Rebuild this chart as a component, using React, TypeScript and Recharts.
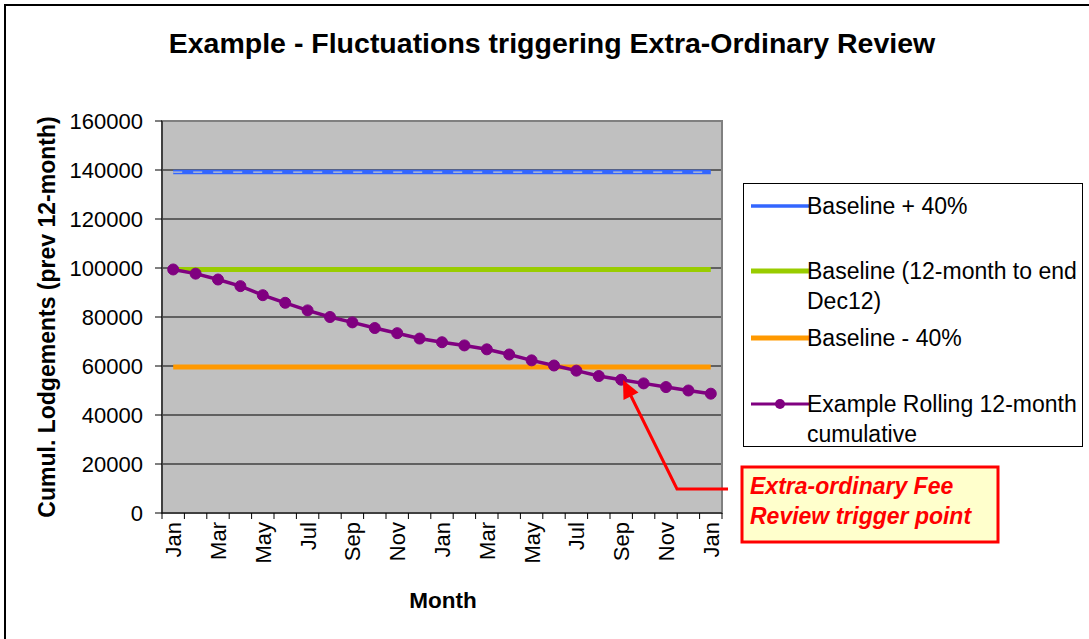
import React from 'react';
import { LineChart, Line, XAxis, YAxis, CartesianGrid, Legend, ReferenceArea } from 'recharts';

// ---------- data ----------
const months = [
  'Jan', 'Feb', 'Mar', 'Apr', 'May', 'Jun', 'Jul', 'Aug', 'Sep', 'Oct', 'Nov', 'Dec',
  'Jan', 'Feb', 'Mar', 'Apr', 'May', 'Jun', 'Jul', 'Aug', 'Sep', 'Oct', 'Nov', 'Dec',
  'Jan',
];
const baselinePlus40 = [
  139160, 139160, 139160, 139160, 139160, 139160, 139160, 139160, 139160, 139160, 139160, 139160,
  139160, 139160, 139160, 139160, 139160, 139160, 139160, 139160, 139160, 139160, 139160, 139160,
  139160,
];
const baseline = [
  99400, 99400, 99400, 99400, 99400, 99400, 99400, 99400, 99400, 99400, 99400, 99400,
  99400, 99400, 99400, 99400, 99400, 99400, 99400, 99400, 99400, 99400, 99400, 99400,
  99400,
];
const baselineMinus40 = [
  59640, 59640, 59640, 59640, 59640, 59640, 59640, 59640, 59640, 59640, 59640, 59640,
  59640, 59640, 59640, 59640, 59640, 59640, 59640, 59640, 59640, 59640, 59640, 59640,
  59640,
];
const rolling = [
  99400, 97700, 95300, 92600, 88900, 85800, 82700, 80000, 77800, 75500, 73400, 71200,
  69700, 68400, 66800, 64700, 62300, 60200, 58100, 55900, 54400, 52900, 51400, 50000,
  48700,
];
const yTicks = [0, 20000, 40000, 60000, 80000, 100000, 120000, 140000, 160000];

const seriesKeys = ['plus', 'base', 'minus', 'rolling'];
const seriesNames: Record<string, string> = {
  plus: 'Baseline + 40%',
  base: 'Baseline (12-month to end Dec12)',
  minus: 'Baseline - 40%',
  rolling: 'Example Rolling 12-month cumulative',
};

const data = months.map((m, i) => ({
  i,
  month: m,
  plus: baselinePlus40[i],
  base: baseline[i],
  minus: baselineMinus40[i],
  rolling: rolling[i],
}));

// category boundaries (Excel-style tick marks between categories)
const xTicks = [...months.map((_, k) => k - 0.5), months.length - 0.5];

// ---------- layout / style ----------
const FONT = '"Liberation Sans", Arial, Helvetica, sans-serif';
const CHART_W = 1089;
const CHART_H = 639;
const MARGIN = { top: 121, right: 367, bottom: 0, left: 0 };
const Y_AXIS_W = 162;
const X_AXIS_H = 126;
const PLOT_W = CHART_W - MARGIN.left - MARGIN.right - Y_AXIS_W;
const HALF_BAND = PLOT_W / months.length / 2;
const TICK_FONT = 22;

const COLORS: Record<string, string> = {
  plus: '#3366FF',
  base: '#99CC00',
  minus: '#FF9900',
  rolling: '#800080',
};
const LEGEND_WIDTHS: Record<string, number> = { plus: 3.5, base: 5, minus: 5, rolling: 3 };

const legendTops = [7, 72, 139, 205];

function MonthTick(props: any) {
  const { x, y, payload } = props;
  const k = payload.value + 0.5;
  if (k % 2 !== 0 || k >= months.length) return <g />;
  const cx = x + HALF_BAND;
  return (
    <text
      x={cx}
      y={y}
      dy={8}
      transform={`rotate(-90, ${cx}, ${y})`}
      textAnchor="end"
      style={{ fontSize: TICK_FONT, fontFamily: FONT }}
      fill="#000"
    >
      {months[k]}
    </text>
  );
}

function ValueTick(props: any) {
  const { x, y, payload } = props;
  return (
    <text
      x={x}
      y={y}
      dy={8}
      textAnchor="end"
      style={{ fontSize: TICK_FONT, fontFamily: FONT }}
      fill="#000"
    >
      {payload.value}
    </text>
  );
}

function LegendBox(props: any) {
  const raw = (props.payload || []).filter((p: any) => p.type !== 'none' && seriesKeys.includes(p.dataKey));
  const items = seriesKeys
    .map((k) => raw.find((p: any) => p.dataKey === k))
    .filter(Boolean);
  return (
    <div
      style={{
        position: 'relative',
        width: 340,
        height: 264,
        border: '1px solid #000',
        background: '#fff',
        boxSizing: 'border-box',
        fontFamily: FONT,
        fontSize: 23,
        color: '#000',
        textAlign: 'left',
      }}
    >
      {items.map((p: any, idx: number) => {
        const hasDot = p.dataKey === 'rolling';
        return (
          <div key={String(p.dataKey)} style={{ position: 'absolute', left: 0, top: legendTops[idx], width: 340 }}>
            <svg width={60} height={30} style={{ position: 'absolute', left: 6, top: 0 }}>
              <line x1={1} y1={15} x2={59} y2={15} stroke={p.color} strokeWidth={LEGEND_WIDTHS[p.dataKey]} />
              {hasDot && <circle cx={30} cy={15} r={5} fill={p.color} />}
            </svg>
            <div style={{ position: 'absolute', left: 63, top: 0, width: 280, lineHeight: '30px' }}>
              {seriesNames[p.dataKey]}
            </div>
          </div>
        );
      })}
    </div>
  );
}

export default function App() {
  return (
    <div
      style={{
        position: 'absolute',
        left: 0,
        top: 0,
        width: CHART_W,
        height: CHART_H,
        background: '#fff',
        overflow: 'hidden',
        fontFamily: FONT,
      }}
    >
      <div
        style={{
          position: 'absolute',
          left: 4,
          top: 4,
          width: 1200,
          height: 800,
          border: '2px solid #000',
        }}
      />
      <div style={{ position: 'absolute', left: 0, top: 0 }}>
        <LineChart width={CHART_W} height={CHART_H} data={data} margin={MARGIN}>
          <CartesianGrid vertical={false} stroke="#000" strokeWidth={1} fill="#C0C0C0" fillOpacity={1} />
          <ReferenceArea x1={-0.5} x2={24.5} y1={0} y2={160000} fill="none" stroke="#808080" strokeWidth={2} />
          <XAxis
            dataKey="i"
            type="number"
            domain={[-0.5, 24.5]}
            ticks={xTicks}
            interval={0}
            height={X_AXIS_H}
            tickSize={6}
            tickMargin={3}
            stroke="#000"
            tickLine={{ stroke: '#000' }}
            axisLine={{ stroke: '#000' }}
            tick={<MonthTick />}
          />
          <YAxis
            type="number"
            domain={[0, 160000]}
            ticks={yTicks}
            interval={0}
            width={Y_AXIS_W}
            tickSize={7}
            tickMargin={12}
            stroke="#000"
            tickLine={{ stroke: '#000' }}
            axisLine={{ stroke: '#000' }}
            tick={<ValueTick />}
          />
          <Legend
            layout="horizontal"
            verticalAlign="middle"
            align="center"
            width={340}
            height={264}
            wrapperStyle={{ left: 743, top: 183, width: 340, height: 264 }}
            content={<LegendBox />}
          />
          <Line
            dataKey="plus"
            name={seriesNames.plus}
            stroke={COLORS.plus}
            strokeWidth={4.5}
            dot={false}
            activeDot={false}
            isAnimationActive={false}
          />
          <Line
            dataKey="plus"
            name="plus-overlay"
            legendType="none"
            stroke="#C8C8C8"
            strokeWidth={1.2}
            strokeDasharray="9 11"
            dot={false}
            activeDot={false}
            isAnimationActive={false}
          />
          <Line
            dataKey="base"
            name={seriesNames.base}
            stroke={COLORS.base}
            strokeWidth={5}
            dot={false}
            activeDot={false}
            isAnimationActive={false}
          />
          <Line
            dataKey="minus"
            name={seriesNames.minus}
            stroke={COLORS.minus}
            strokeWidth={5}
            dot={false}
            activeDot={false}
            isAnimationActive={false}
          />
          <Line
            dataKey="rolling"
            name={seriesNames.rolling}
            stroke={COLORS.rolling}
            strokeWidth={3.5}
            dot={{ r: 5.5, fill: COLORS.rolling, stroke: COLORS.rolling, strokeWidth: 1 }}
            activeDot={false}
            isAnimationActive={false}
          />
        </LineChart>
      </div>
      <svg
        width={CHART_W}
        height={CHART_H}
        style={{ position: 'absolute', left: 0, top: 0, pointerEvents: 'none' }}
      >
        <text x={552} y={53} textAnchor="middle" fontSize={28.5} fontWeight="bold" fontFamily={FONT} fill="#000">
          Example - Fluctuations triggering Extra-Ordinary Review
        </text>
        <text
          x={55}
          y={317}
          transform="rotate(-90, 55, 317)"
          textAnchor="middle"
          fontSize={23}
          fontWeight="bold"
          fontFamily={FONT}
          fill="#000"
        >
          Cumul. Lodgements (prev 12-month)
        </text>
        <text x={443} y={608} textAnchor="middle" fontSize={22.5} fontWeight="bold" fontFamily={FONT} fill="#000">
          Month
        </text>
        {/* annotation */}
        <polyline points="728,489 677,489 629,392" fill="none" stroke="#FF0000" strokeWidth={3} />
        <polygon points="623,380 638.5,392.5 623.5,400" fill="#FF0000" />
        <rect x={742} y={467} width={256} height={75} fill="#FFFFCC" stroke="#FF0000" strokeWidth={3} />
        <text x={750} y={494} fontSize={23} fontWeight="bold" fontStyle="italic" fontFamily={FONT} fill="#FF0000">
          Extra-ordinary Fee
        </text>
        <text x={750} y={524} fontSize={23} fontWeight="bold" fontStyle="italic" fontFamily={FONT} fill="#FF0000">
          Review trigger point
        </text>
      </svg>
    </div>
  );
}
